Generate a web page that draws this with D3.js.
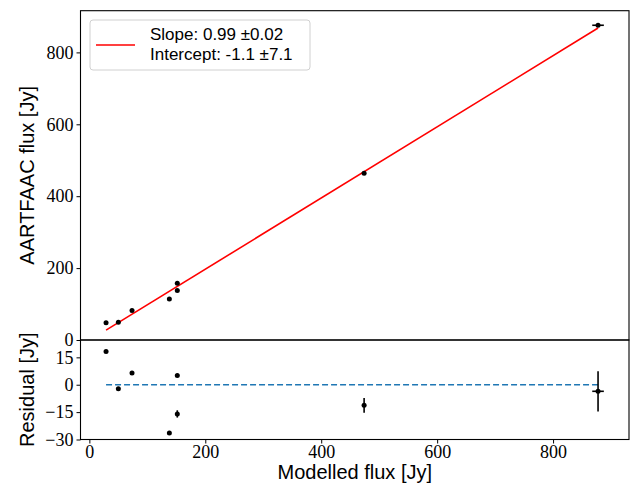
<!DOCTYPE html>
<html>
<head>
<meta charset="utf-8">
<script src="https://cdn.jsdelivr.net/npm/d3@7"></script>
<style>
body { margin: 0; background: #fff; }
.tick text { font-family: "Liberation Serif", serif; font-size: 18px; fill: #000; }
.lbl { font-family: "Liberation Sans", sans-serif; font-size: 20px; fill: #000; }
</style>
</head>
<body>
<div id="chart"></div>
<script>
var svgWidth = 631;
var svgHeight = 491;

// data
var modelled = [28.8, 50, 73.6, 138, 151.7, 151.7, 474, 877.6];
var modelledErr = [0, 0, 0, 0, 0, 0, 0, 10];
var aartfaac = [48, 49.5, 82, 114, 158, 138, 464, 875.5];
var residual = [18.2, -2.2, 6.4, -26.4, 5.1, -16, -11.3, -3.6];
var residualErr = [0, 0, 0, 0, 0, 2, 4, 11];
var slope = 0.99;
var intercept = -1.1;
var xTicks = [0, 200, 400, 600, 800];
var yTicks = [0, 200, 400, 600, 800];
var resTicks = [-30, -15, 0, 15];
var legendLines = ["Slope: 0.99 \u00b10.02", "Intercept: -1.1 \u00b17.1"];

var pLeft = 80.5, pRight = 629, pTop = 10.7, pMid = 340, pBottom = 439.5;

var svg = d3.select("#chart")
    .append("svg")
    .attr("width", svgWidth)
    .attr("height", svgHeight);

var xScale = d3.scaleLinear().domain([-15.3, 931]).range([pLeft, pRight]);
var yScale = d3.scaleLinear().domain([0, 916]).range([pMid, pTop]);
var rScale = d3.scaleLinear().domain([-30, 24.5]).range([pBottom, pMid]);

var data = modelled.map(function(m, i) {
    return {x: m, xe: modelledErr[i], y: aartfaac[i], r: residual[i], re: residualErr[i]};
});

// ---- main panel ----
var topG = svg.append("g");

var xFit = d3.extent(modelled);
topG.append("line")
    .attr("x1", xScale(xFit[0])).attr("y1", yScale(slope * xFit[0] + intercept))
    .attr("x2", xScale(xFit[1])).attr("y2", yScale(slope * xFit[1] + intercept))
    .attr("stroke", "red").attr("stroke-width", 1.6);

topG.selectAll(".xerr")
    .data(data.filter(function(d) { return d.xe > 0; }))
    .enter().append("line")
    .attr("x1", d => xScale(d.x - d.xe)).attr("x2", d => xScale(d.x + d.xe))
    .attr("y1", d => yScale(d.y)).attr("y2", d => yScale(d.y))
    .attr("stroke", "black").attr("stroke-width", 1.6);

topG.selectAll("circle")
    .data(data)
    .enter().append("circle")
    .attr("cx", d => xScale(d.x))
    .attr("cy", d => yScale(d.y))
    .attr("r", 2.5)
    .attr("fill", "black");

topG.append("g")
    .attr("transform", `translate(${pLeft},0)`)
    .call(d3.axisLeft(yScale).tickValues(yTicks).tickSize(4).tickPadding(3).tickFormat(d3.format("d")))
    .call(g => g.select(".domain").remove());

// ---- residual panel ----
var botG = svg.append("g");

botG.append("line")
    .attr("x1", xScale(xFit[0])).attr("x2", xScale(xFit[1]))
    .attr("y1", rScale(0)).attr("y2", rScale(0))
    .attr("stroke", "#1f77b4").attr("stroke-width", 1.6)
    .attr("stroke-dasharray", "6,3");

botG.selectAll(".rerr")
    .data(data.filter(function(d) { return d.re > 0; }))
    .enter().append("line")
    .attr("x1", d => xScale(d.x)).attr("x2", d => xScale(d.x))
    .attr("y1", d => rScale(d.r - d.re)).attr("y2", d => rScale(d.r + d.re))
    .attr("stroke", "black").attr("stroke-width", 1.6);

botG.selectAll(".rxerr")
    .data(data.filter(function(d) { return d.xe > 0; }))
    .enter().append("line")
    .attr("x1", d => xScale(d.x - d.xe)).attr("x2", d => xScale(d.x + d.xe))
    .attr("y1", d => rScale(d.r)).attr("y2", d => rScale(d.r))
    .attr("stroke", "black").attr("stroke-width", 1.6);

botG.selectAll("circle")
    .data(data)
    .enter().append("circle")
    .attr("cx", d => xScale(d.x))
    .attr("cy", d => rScale(d.r))
    .attr("r", 2.5)
    .attr("fill", "black");

botG.append("g")
    .attr("transform", `translate(${pLeft},0)`)
    .call(d3.axisLeft(rScale).tickValues(resTicks).tickSize(4).tickPadding(3)
        .tickFormat(d => d < 0 ? "\u2212" + Math.abs(d) : d))
    .call(g => g.select(".domain").remove());

botG.append("g")
    .attr("transform", `translate(0,${pBottom})`)
    .call(d3.axisBottom(xScale).tickValues(xTicks).tickSize(4).tickPadding(2).tickFormat(d3.format("d")))
    .call(g => g.select(".domain").remove());

// frames
[[pTop, pMid], [pMid, pBottom]].forEach(function(p) {
    svg.append("rect")
        .attr("x", pLeft).attr("y", p[0])
        .attr("width", pRight - pLeft).attr("height", p[1] - p[0])
        .attr("fill", "none").attr("stroke", "black").attr("stroke-width", 1.1);
});

// legend
var leg = svg.append("g").attr("transform", "translate(90,20)");
leg.append("rect")
    .attr("width", 220).attr("height", 50).attr("rx", 3)
    .attr("fill", "white").attr("fill-opacity", 0.8)
    .attr("stroke", "#d0d0d0").attr("stroke-width", 1);
leg.append("line")
    .attr("x1", 6).attr("x2", 45).attr("y1", 25).attr("y2", 25)
    .attr("stroke", "red").attr("stroke-width", 1.6);
leg.selectAll("text")
    .data(legendLines)
    .enter().append("text")
    .attr("class", "lbl")
    .style("font-size", "17px")
    .attr("x", 60)
    .attr("y", (d, i) => 20 + i * 20)
    .text(d => d);

// axis labels
svg.append("text").attr("class", "lbl")
    .attr("text-anchor", "middle")
    .attr("transform", `translate(34,${(pTop + pMid) / 2}) rotate(-90)`)
    .text("AARTFAAC flux [Jy]");
svg.append("text").attr("class", "lbl")
    .attr("text-anchor", "middle")
    .attr("transform", `translate(34,${(pMid + pBottom) / 2}) rotate(-90)`)
    .text("Residual [Jy]");
svg.append("text").attr("class", "lbl")
    .attr("text-anchor", "middle")
    .attr("x", (pLeft + pRight) / 2)
    .attr("y", 479)
    .text("Modelled flux [Jy]");
</script>
</body>
</html>
